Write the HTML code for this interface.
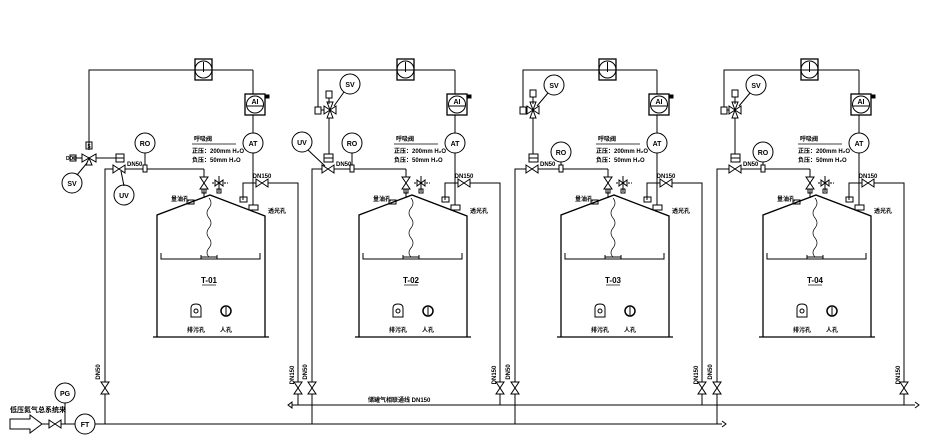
<!DOCTYPE html>
<html><head><meta charset="utf-8"><style>
html,body{margin:0;padding:0;background:#fff;width:944px;height:441px;overflow:hidden}
svg{display:block}
text{font-family:"Liberation Sans","Noto Sans CJK SC",sans-serif;font-weight:bold;fill:#000}
</style></head><body>
<svg width="944" height="441" viewBox="0 0 944 441" xmlns="http://www.w3.org/2000/svg">
<defs>
<g id="valveH"><path d="M-6,-4 L6,4 L6,-4 L-6,4 Z" fill="#fff" stroke="#000" stroke-width="1"/></g>
<g id="valveV"><path d="M-4,-6 L4,6 L-4,6 L4,-6 Z" fill="#fff" stroke="#000" stroke-width="1"/></g>
<g id="tank" stroke="#000" fill="none" stroke-width="1">
  <!-- body -->
  <path d="M157,337 L157,215 L210,195 L265,216 L265,337" stroke-width="1.3"/>
  <line x1="153" y1="337" x2="269" y2="337" stroke-width="1.3"/>
  <path d="M161,253 L161,259 L260,259 L260,253"/>
  <path d="M201,257 L217,257 M201,255 L201,259 M217,255 L217,259"/>
  <path d="M209,198 q4,5 0,10 q-4,5 0,10 q4,5 0,10 q-4,5 0,10 q4,5 0,10 q-4,5 0,9" stroke-width="0.7"/>
  <text x="209" y="283" font-size="8" text-anchor="middle" stroke="none">T-0#</text>
  <line x1="202" y1="285" x2="216" y2="285" stroke-width="0.7"/>
  <path d="M191,317 L191,308 Q191,304 196,304 Q201,304 201,308 L201,317 Z"/>
  <circle cx="196" cy="311" r="2"/>
  <circle cx="226" cy="311" r="5" stroke-width="1.5"/>
  <line x1="226" y1="307" x2="226" y2="315"/>
  <text x="196" y="332" font-size="6" text-anchor="middle" stroke="none">排污孔</text>
  <text x="226" y="332" font-size="6" text-anchor="middle" stroke="none">人孔</text>
  <text x="180" y="201" font-size="6" text-anchor="middle" stroke="none">量油孔</text>
  <rect x="187" y="200" width="7" height="4"/>
  <text x="277" y="213" font-size="6" text-anchor="middle" stroke="none">透光孔</text>
  <rect x="249" y="205" width="9" height="5"/>
  <!-- breather -->
  <line x1="204" y1="169" x2="204" y2="198"/>
  <use href="#valveV" x="204" y="183"/>
  <rect x="202" y="189" width="4" height="4"/>
  <line x1="212" y1="183" x2="228" y2="183" stroke-dasharray="2,1"/>
  <path d="M215,180 L223,186 L223,180 L215,186 Z" fill="#fff"/>
  <line x1="219" y1="176" x2="219" y2="192"/>
  <rect x="217" y="189" width="4" height="4"/>
  <text x="194" y="141" font-size="6" stroke="none">呼吸阀</text>
  <line x1="192" y1="144" x2="236" y2="144" stroke-width="0.7"/>
  <text x="192" y="153" font-size="6" stroke="none">正压：200mm H₂O</text>
  <text x="192" y="162" font-size="6" stroke="none">负压：50mm H₂O</text>
  <!-- AT / AI -->
  <line x1="253" y1="70" x2="253" y2="205"/>
  <rect x="245" y="94" width="20" height="21" fill="#fff" stroke-width="1.3"/>
  <circle cx="255" cy="104.5" r="8.5"/>
  <line x1="246.5" y1="106" x2="263.5" y2="106"/>
  <text x="255" y="104" font-size="7" text-anchor="middle" stroke="none">AI</text>
  <rect x="266" y="95" width="3" height="3" fill="#000"/>
  <circle cx="253" cy="143" r="10" fill="#fff"/>
  <text x="253" y="146" font-size="7" text-anchor="middle" stroke="none">AT</text>
  <rect x="195" y="59" width="17" height="21" fill="#fff" stroke-width="1.3"/>
  <circle cx="203.5" cy="69.5" r="8.5"/>
  <line x1="203.5" y1="62" x2="203.5" y2="72"/>
  <!-- DN150 -->
  <path d="M243,200 L243,183 L298,183 L298,405"/>
  <rect x="240" y="197" width="7" height="5"/>
  <use href="#valveH" x="262" y="183"/>
  <text x="262" y="178" font-size="6" text-anchor="middle" stroke="none">DN150</text>
  <use href="#valveV" x="298" y="388"/>
  <text transform="translate(294,375) rotate(-90)" font-size="6" text-anchor="middle" stroke="none">DN150</text>
</g>
</defs>

<g stroke="#000" fill="none" stroke-width="1">
<!-- Tanks -->
<use href="#tank"/>
<use href="#tank" x="202"/>
<use href="#tank" x="404"/>
<use href="#tank" x="606"/>

<!-- loops -->
<path d="M89,150 L89,70 L253,70"/>
<path d="M318,107 L318,70 L455,70"/>
<path d="M523,107 L523,70 L657,70"/>
<path d="M724,107 L724,70 L859,70"/>

<!-- Tank1 left -->
<rect x="86" y="142" width="6" height="7"/>
<path d="M82,154 L96,162 L96,154 L82,162 Z" fill="#fff"/>
<path d="M86,165 L89,158 L92,165 Z" fill="#fff"/>
<line x1="72" y1="158" x2="82" y2="158"/>
<rect x="70" y="155" width="6" height="6"/>
<line x1="96" y1="158" x2="116" y2="158"/>
<rect x="116" y="154" width="8" height="8"/>
<line x1="116" y1="158" x2="124" y2="158"/>
<line x1="87" y1="163" x2="77" y2="175"/>
<circle cx="72" cy="183" r="10"/>
<path d="M105,424 L105,169 L204,169"/>
<use href="#valveH" x="119" y="169"/>
<line x1="121" y1="171" x2="124" y2="186"/>
<circle cx="124" cy="195" r="10"/>
<circle cx="145" cy="143" r="10"/>
<line x1="145" y1="153" x2="145" y2="169"/>
<rect x="143" y="165" width="4" height="7" fill="#fff"/>
<use href="#valveV" x="105" y="388"/>

<!-- Tank2 left -->
<rect x="315" y="107" width="6" height="7"/>
<line x1="321" y1="110" x2="324" y2="110"/>
<path d="M324,106 L336,114 L336,106 L324,114 Z" fill="#fff"/>
<path d="M327,102 L330,110 L333,102 Z" fill="#fff"/>
<path d="M327,118 L330,110 L333,118 Z" fill="#fff"/>
<rect x="326" y="91" width="6" height="7"/>
<line x1="329" y1="98" x2="329" y2="104"/>
<line x1="334" y1="106" x2="344" y2="92"/>
<circle cx="350" cy="84" r="10"/>
<line x1="329" y1="118" x2="329" y2="154"/>
<rect x="324" y="154" width="9" height="8"/>
<line x1="324" y1="158" x2="333" y2="158"/>
<path d="M312,424 L312,169 L406,169"/>
<use href="#valveH" x="328" y="169"/>
<line x1="325" y1="166" x2="308" y2="150"/>
<circle cx="302" cy="142" r="10"/>
<circle cx="352" cy="143" r="10"/>
<line x1="352" y1="153" x2="352" y2="169"/>
<rect x="350" y="165" width="4" height="7" fill="#fff"/>
<use href="#valveV" x="312" y="388"/>

<!-- Tank3 left -->
<rect x="520" y="107" width="6" height="7"/>
<line x1="526" y1="110" x2="527" y2="110"/>
<path d="M527,106 L539,114 L539,106 L527,114 Z" fill="#fff"/>
<path d="M530,102 L533,110 L536,102 Z" fill="#fff"/>
<path d="M530,118 L533,110 L536,118 Z" fill="#fff"/>
<rect x="530" y="90" width="6" height="7"/>
<line x1="533" y1="97" x2="533" y2="104"/>
<line x1="537" y1="106" x2="548" y2="93"/>
<circle cx="554" cy="85" r="10"/>
<line x1="533" y1="118" x2="533" y2="154"/>
<rect x="529" y="154" width="9" height="8"/>
<line x1="529" y1="158" x2="538" y2="158"/>
<path d="M515,424 L515,169 L608,169"/>
<use href="#valveH" x="532" y="169"/>
<circle cx="561" cy="152" r="10"/>
<line x1="561" y1="162" x2="561" y2="169"/>
<rect x="559" y="165" width="4" height="7" fill="#fff"/>
<use href="#valveV" x="515" y="388"/>

<!-- Tank4 left -->
<rect x="721" y="107" width="6" height="7"/>
<line x1="727" y1="110" x2="729" y2="110"/>
<path d="M729,106 L741,114 L741,106 L729,114 Z" fill="#fff"/>
<path d="M732,102 L735,110 L738,102 Z" fill="#fff"/>
<path d="M732,118 L735,110 L738,118 Z" fill="#fff"/>
<rect x="732" y="90" width="6" height="7"/>
<line x1="735" y1="97" x2="735" y2="104"/>
<line x1="739" y1="106" x2="750" y2="93"/>
<circle cx="756" cy="85" r="10"/>
<line x1="735" y1="118" x2="735" y2="154"/>
<rect x="731" y="154" width="9" height="8"/>
<line x1="731" y1="158" x2="740" y2="158"/>
<path d="M717,424 L717,169 L810,169"/>
<use href="#valveH" x="735" y="169"/>
<circle cx="763" cy="152" r="10"/>
<line x1="763" y1="162" x2="763" y2="169"/>
<rect x="761" y="165" width="4" height="7" fill="#fff"/>
<use href="#valveV" x="717" y="388"/>

<!-- headers -->
<line x1="292" y1="405" x2="915" y2="405"/>
<path d="M292,402 L288,405 L292,408 Z"/>
<path d="M915,402 L919,405 L915,408"/>
<line x1="42" y1="424" x2="722" y2="424"/>
<path d="M722,421 L726,424 L722,427"/>

<!-- inlet -->
<path d="M10,419 L30,419 L30,415 L42,424 L30,433 L30,429 L10,429 Z"/>
<line x1="42" y1="424" x2="75" y2="424"/>
<use href="#valveH" x="55" y="424"/>
<circle cx="65" cy="393" r="10" fill="#fff"/>
<line x1="65" y1="403" x2="65" y2="424"/>
<circle cx="85" cy="424" r="10" fill="#fff"/>
</g>

<g font-size="6">
<text x="10" y="412" font-size="7">低压氮气总系统来</text>
<text x="65" y="396" text-anchor="middle" font-size="7">PG</text>
<text x="85" y="427" text-anchor="middle" font-size="7">FT</text>
<text x="72" y="186" text-anchor="middle" font-size="7">SV</text>
<text x="124" y="198" text-anchor="middle" font-size="7">UV</text>
<text x="145" y="146" text-anchor="middle" font-size="7">RO</text>
<text x="89" y="148" text-anchor="middle" font-size="5">S</text>
<text x="66" y="160" font-size="5">DDD</text>
<text x="127" y="166">DN50</text>
<text transform="translate(100,372) rotate(-90)" text-anchor="middle">DN50</text>

<text x="350" y="87" text-anchor="middle" font-size="7">SV</text>
<text x="302" y="145" text-anchor="middle" font-size="7">UV</text>
<text x="352" y="146" text-anchor="middle" font-size="7">RO</text>
<text x="336" y="166">DN50</text>
<text transform="translate(307,372) rotate(-90)" text-anchor="middle">DN50</text>

<text x="554" y="88" text-anchor="middle" font-size="7">SV</text>
<text x="561" y="155" text-anchor="middle" font-size="7">RO</text>
<text x="540" y="166">DN50</text>
<text transform="translate(510,372) rotate(-90)" text-anchor="middle">DN50</text>

<text x="756" y="88" text-anchor="middle" font-size="7">SV</text>
<text x="763" y="155" text-anchor="middle" font-size="7">RO</text>
<text x="743" y="166">DN50</text>
<text transform="translate(712,372) rotate(-90)" text-anchor="middle">DN50</text>

<text x="368" y="402">储罐气相联通线  DN150</text>
</g>
<!-- tank labels override -->
<g font-size="8" text-anchor="middle">
<rect x="200" y="275" width="18" height="9" fill="#fff"/><text x="209" y="283">T-01</text>
<rect x="402" y="275" width="18" height="9" fill="#fff"/><text x="411" y="283">T-02</text>
<rect x="604" y="275" width="18" height="9" fill="#fff"/><text x="613" y="283">T-03</text>
<rect x="806" y="275" width="18" height="9" fill="#fff"/><text x="815" y="283">T-04</text>
</g>
</svg>
</body></html>
